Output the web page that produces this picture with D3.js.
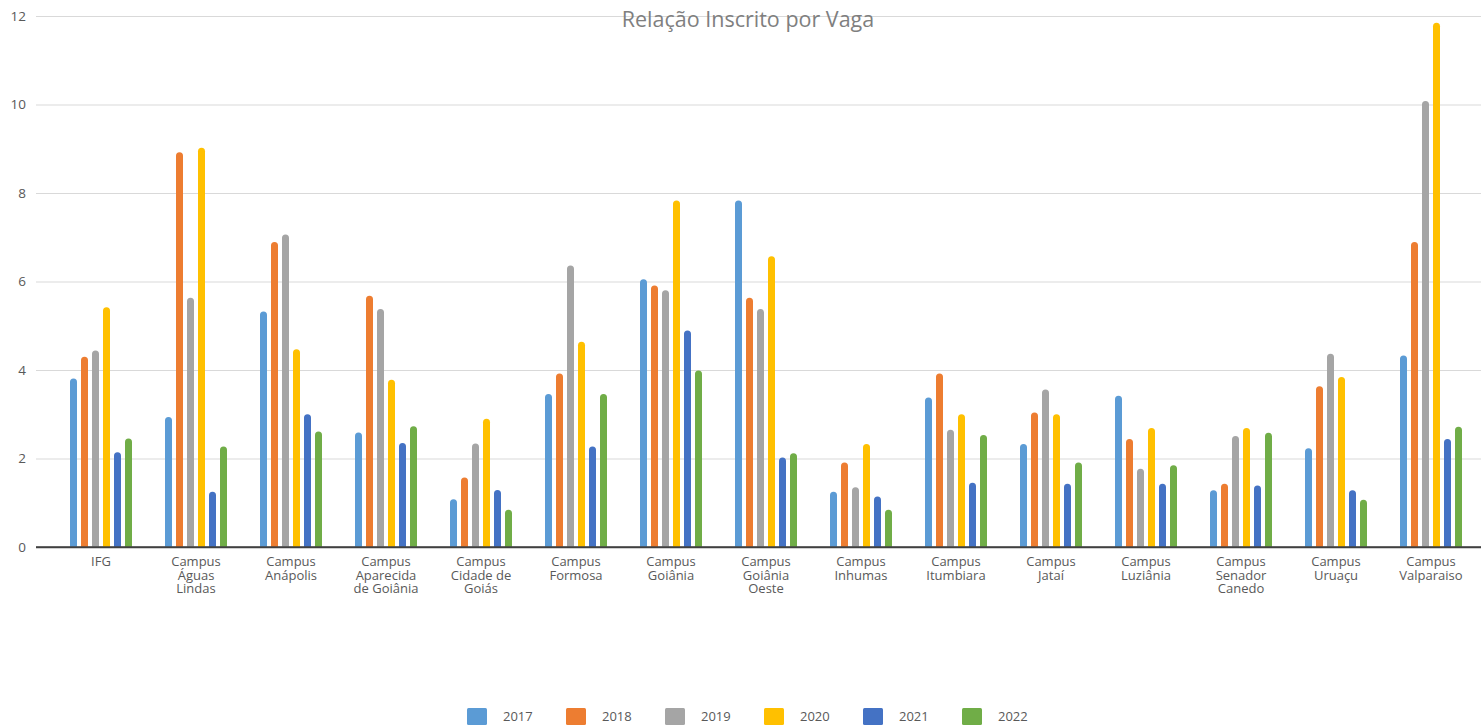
<!DOCTYPE html>
<html>
<head>
<meta charset="utf-8">
<script src="https://cdn.jsdelivr.net/npm/d3@7"></script>
<style>
  html, body { margin: 0; padding: 0; background: #fff; }
  svg { display: block; font-family: "Open Sans", "Noto Sans", sans-serif; }
</style>
</head>
<body>
<div id="chart"></div>
<script>
// Categories (campuses) and years
const categories = [
  'IFG', 'Campus Águas Lindas', 'Campus Anápolis', 'Campus Aparecida de Goiânia',
  'Campus Cidade de Goiás', 'Campus Formosa', 'Campus Goiânia', 'Campus Goiânia Oeste',
  'Campus Inhumas', 'Campus Itumbiara', 'Campus Jataí', 'Campus Luziânia',
  'Campus Senador Canedo', 'Campus Uruaçu', 'Campus Valparaiso'
];
const years = ['2017', '2018', '2019', '2020', '2021', '2022'];

// Series values, one array per year, in category order
const v2017 = [3.81, 2.94, 5.32, 2.59, 1.08, 3.46, 6.05, 7.83, 1.25, 3.38, 2.33, 3.42, 1.28, 2.23, 4.33];
const v2018 = [4.30, 8.92, 6.89, 5.68, 1.57, 3.92, 5.91, 5.63, 1.91, 3.92, 3.04, 2.44, 1.43, 3.63, 6.89];
const v2019 = [4.44, 5.63, 7.06, 5.38, 2.34, 6.36, 5.80, 5.38, 1.35, 2.65, 3.56, 1.77, 2.51, 4.37, 10.08];
const v2020 = [5.42, 9.02, 4.47, 3.78, 2.90, 4.64, 7.83, 6.57, 2.33, 3.00, 3.00, 2.69, 2.69, 3.84, 11.85];
const v2021 = [2.14, 1.25, 3.00, 2.35, 1.29, 2.27, 4.89, 2.02, 1.14, 1.45, 1.43, 1.43, 1.39, 1.28, 2.44];
const v2022 = [2.45, 2.27, 2.61, 2.73, 0.84, 3.46, 3.99, 2.12, 0.84, 2.53, 1.91, 1.85, 2.58, 1.07, 2.72];

const yTicks = [0, 2, 4, 6, 8, 10, 12];
const colors = ['#5b9bd5', '#ed7d31', '#a5a5a5', '#ffc000', '#4472c4', '#70ad47'];

const series = [v2017, v2018, v2019, v2020, v2021, v2022];

const width = 1481, height = 725;
const plot = { left: 36, right: 1481, top: 16, bottom: 547 };

const svg = d3.select('#chart').append('svg')
  .attr('width', width)
  .attr('height', height);

// Scales
const y = d3.scaleLinear().domain([0, 12]).range([plot.bottom, plot.top]);
const x0 = d3.scaleBand().domain(categories).range([53.5, 1478.5]).padding(0);
const x1 = d3.scaleBand().domain(years).range([0, 62]).paddingInner(4 / 11).paddingOuter(0);
const color = d3.scaleOrdinal().domain(years).range(colors);

// Gridlines + y labels
const yAxis = svg.append('g')
  .attr('transform', `translate(${plot.left},0)`)
  .call(d3.axisLeft(y).tickValues(yTicks).tickSize(-(plot.right - plot.left)).tickPadding(10));
yAxis.select('.domain').remove();
yAxis.selectAll('.tick line')
  .attr('stroke', d => d === 0 ? '#404040' : '#d9d9d9')
  .attr('stroke-width', d => d === 0 ? 1.5 : 1);
yAxis.selectAll('.tick text')
  .attr('fill', '#595959')
  .style('font-size', '13.5px')
  .style('font-family', '"Open Sans", sans-serif');

// Title
svg.append('text')
  .attr('x', 748)
  .attr('y', 27)
  .attr('text-anchor', 'middle')
  .attr('fill', '#7f7f7f')
  .style('font-size', '21.5px')
  .text('Relação Inscrito por Vaga');

// Bars with rounded tops
function barPath(x, yTop, w, yBase) {
  const r = Math.min(w / 2, yBase - yTop);
  return `M${x},${yBase} L${x},${yTop + r} A${r},${r} 0 0 1 ${x + r},${yTop} ` +
    `L${x + w - r},${yTop} A${r},${r} 0 0 1 ${x + w},${yTop + r} L${x + w},${yBase} Z`;
}

const groupOffset = (x0.bandwidth() - 62) / 2;
const groups = svg.append('g').selectAll('g')
  .data(categories)
  .join('g')
  .attr('transform', d => `translate(${x0(d) + groupOffset},0)`);

groups.selectAll('path')
  .data((d, i) => years.map((yr, j) => ({ year: yr, value: series[j][i] })))
  .join('path')
  .attr('fill', d => color(d.year))
  .attr('d', d => barPath(x1(d.year), y(d.value), x1.bandwidth(), y(0)));

// zero axis line drawn on top
svg.append('line')
  .attr('x1', plot.left).attr('x2', plot.right)
  .attr('y1', y(0)).attr('y2', y(0))
  .attr('stroke', '#404040').attr('stroke-width', 1.5);

// Category labels, wrapped
const labelG = svg.append('g');
categories.forEach(name => {
  const cx = x0(name) + x0.bandwidth() / 2;
  const t = labelG.append('text')
    .attr('x', cx)
    .attr('y', 566)
    .attr('text-anchor', 'middle')
    .attr('fill', '#595959')
    .style('font-size', '13px');
  const words = name.split(' ');
  let line = [];
  let tspan = t.append('tspan').attr('x', cx).attr('dy', 0);
  words.forEach(w => {
    line.push(w);
    tspan.text(line.join(' '));
    if (tspan.node().getComputedTextLength() > 74 && line.length > 1) {
      line.pop();
      tspan.text(line.join(' '));
      line = [w];
      tspan = t.append('tspan').attr('x', cx).attr('dy', 13.5).text(w);
    }
  });
});

// Legend
const legend = svg.append('g');
years.forEach((yr, i) => {
  const lx = 467 + i * 99;
  legend.append('rect')
    .attr('x', lx).attr('y', 708)
    .attr('width', 20).attr('height', 17)
    .attr('rx', 1.5)
    .attr('fill', color(yr));
  legend.append('text')
    .attr('x', lx + 36).attr('y', 721)
    .attr('fill', '#595959')
    .style('font-size', '13px')
    .text(yr);
});
</script>
</body>
</html>
